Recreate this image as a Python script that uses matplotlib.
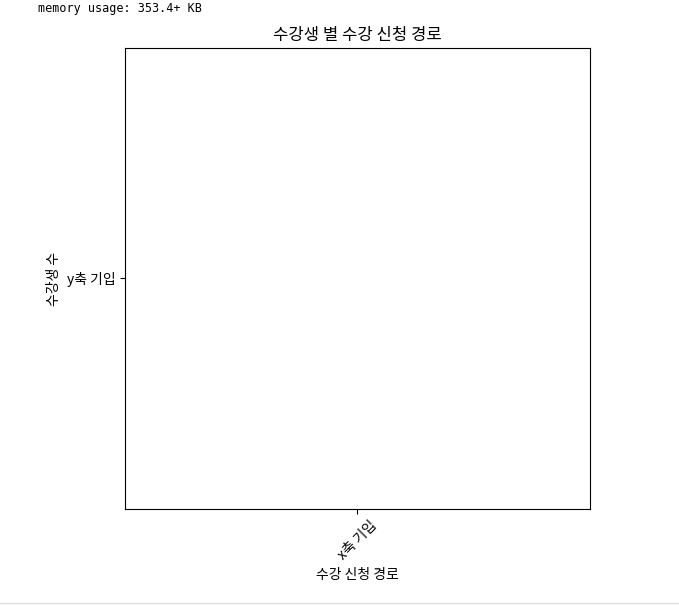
import matplotlib.pyplot as plt
from matplotlib.lines import Line2D

plt.rcParams['font.family'] = ['Noto Sans CJK KR', 'DejaVu Sans']

# 데이터 (자리표시자만 있는 차트)
categories = ['x축 기입']
values = ['y축 기입']

fig = plt.figure(figsize=(6.79, 6.06), dpi=100)
ax = fig.add_axes([0.1841, 0.1601, 0.6848, 0.7607])

# 점 하나짜리 선이라 아무것도 그려지지 않음
ax.plot(categories, values)

ax.set_title('수강생 별 수강 신청 경로', fontsize=12)
ax.set_xlabel('수강 신청 경로', fontsize=10)
ax.set_ylabel('수강생 수', fontsize=10)
plt.setp(ax.get_xticklabels(), rotation=45)

# 노트북 출력 위쪽 텍스트
fig.text(0.056, 0.986, 'memory usage: 353.4+ KB', family='DejaVu Sans Mono',
         fontsize=8.5, va='center', ha='left')
fig.add_artist(Line2D([0, 1], [0.005, 0.005], color='#e0e0e0', lw=1,
                      transform=fig.transFigure))

fig.savefig('out.png', dpi=100)
